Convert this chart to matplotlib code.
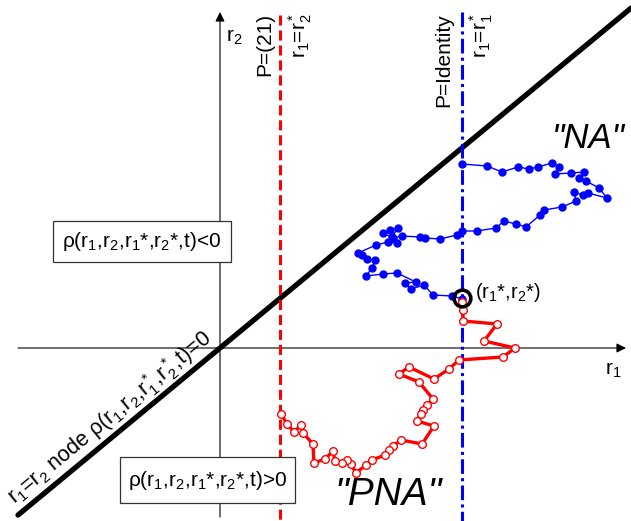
import matplotlib
matplotlib.use('Agg')
import matplotlib.pyplot as plt
from matplotlib.patches import Rectangle

plt.rcParams['font.family'] = ['Liberation Sans', 'DejaVu Sans']
plt.rcParams['mathtext.fontset'] = 'custom'
plt.rcParams['mathtext.rm'] = 'Liberation Sans'
plt.rcParams['mathtext.it'] = 'Liberation Sans:italic'

# ── data (r1, r2 in drawing units, origin at axes crossing) ────────────────
blue_r1 = [242, 232, 213, 204, 191, 185, 196, 177, 163, 146, 152, 155, 147, 142, 138,
           156, 168, 177, 172, 178, 170, 163, 173, 182, 200, 205, 220, 237, 242, 257,
           276, 284, 296, 306, 320, 324, 342, 356, 354, 363, 368, 387, 379, 366, 359,
           364, 351, 335, 339, 332, 318, 309, 298, 282, 267, 242]
blue_r2 = [49, 52, 53, 63, 59, 65, 66, 75, 74, 72, 80, 88, 89, 93, 95,
           103, 106, 105, 111, 120, 118, 115, 110, 112, 111, 110, 109, 113, 117, 117,
           120, 127, 124, 121, 133, 138, 141, 147, 156, 153, 155, 150, 160, 167, 170,
           176, 175, 174, 181, 185, 181, 179, 181, 176, 182, 184]

red_r1 = [242, 243, 243, 277, 264, 295, 283, 239, 229, 214, 189, 179, 199, 213, 207,
          203, 201, 197, 214, 202, 181, 173, 169, 165, 152, 146, 136, 131, 127, 122,
          115, 113, 105, 94, 93, 83, 81, 74, 67, 61]
red_r2 = [46, 38, 27, 24, 7, 0, -9, -12, -21, -31, -19, -26, -34, -51, -57,
          -62, -66, -73, -78, -96, -92, -98, -102, -107, -112, -117, -125, -116, -112, -115,
          -113, -103, -111, -115, -96, -85, -77, -84, -76, -66]

star_r1, star_r2 = 242, 50      # (r1*, r2*)
swap_r1 = 60                    # r1 = r2*
diag_slope = 0.827              # r1 = r2 node line

fig = plt.figure(figsize=(6.31, 5.21), dpi=100)
fig.patch.set_facecolor('white')
ax = fig.add_axes([0, 0, 1, 1])
ax.set_xlim(-220, 411)
ax.set_ylim(-173, 348)
ax.axis('off')

# axes with arrows
ax.annotate('', xy=(406, 0), xytext=(-202, 0),
            arrowprops=dict(arrowstyle='-|>', color='black', lw=0.8,
                            mutation_scale=14, shrinkA=0, shrinkB=0), zorder=1)
ax.annotate('', xy=(0, 336), xytext=(0, -169),
            arrowprops=dict(arrowstyle='-|>', color='black', lw=0.8,
                            mutation_scale=14, shrinkA=0, shrinkB=0), zorder=1)
ax.text(14, 311, 'r$_2$', fontsize=15, ha='center', va='center')
ax.text(393, -22, 'r$_1$', fontsize=15, ha='center', va='center')

# diagonal node line
dx = [-202, 411]
ax.plot(dx, [diag_slope * v for v in dx], color='black', lw=3.8,
        solid_capstyle='round', zorder=2)

# vertical reference lines
ax.plot([swap_r1, swap_r1], [333, -173], color='#FF0000', lw=2.2,
        linestyle=(0, (3.3, 1.6)), zorder=2)
ax.plot([star_r1, star_r1], [336, -173], color='#0000FF', lw=2.2,
        linestyle=(0, (4.8, 1.4, 1.0, 1.4)), zorder=2)

ax.text(45, 335, 'P=(21)', fontsize=15, rotation=90, ha='center', va='top')
ax.text(80, 335, 'r$_1$=r$_2^*$', fontsize=15, rotation=90, ha='center', va='top')
ax.text(224, 335, 'P=Identity', fontsize=15, rotation=90, ha='center', va='top')
ax.text(261, 335, 'r$_1$=r$_1^*$', fontsize=15, rotation=90, ha='center', va='top')

# trajectories
ax.plot(blue_r1, blue_r2, color='#0000FF', lw=1.0, marker='o', markersize=5,
        markerfacecolor='#0000FF', markeredgecolor='#0000FF', zorder=4)
ax.plot(red_r1, red_r2, color='#FF0000', lw=2.4, marker='o', markersize=5.5,
        markerfacecolor='white', markeredgecolor='#FF0000', markeredgewidth=1.0, zorder=4)

ax.plot([star_r1], [star_r2], marker='o', markersize=12, markerfacecolor='none',
        markeredgecolor='black', markeredgewidth=2.6, zorder=5)
ax.text(255, 56, '(r$_1$*,r$_2$*)', fontsize=14.5, ha='left', va='center')

# region boxes
ax.add_patch(Rectangle((-167, 86), 178, 41, facecolor='white',
                       edgecolor='#333333', lw=0.9, zorder=6))
ax.text(-78, 106.5, 'ρ(r$_1$,r$_2$,r$_1$*,r$_2$*,t)<0', fontsize=15,
        ha='center', va='center', zorder=7)
ax.add_patch(Rectangle((-100, -155), 175, 46, facecolor='white',
                       edgecolor='#333333', lw=0.9, zorder=6))
ax.text(-12.5, -132, 'ρ(r$_1$,r$_2$,r$_1$*,r$_2$*,t)>0', fontsize=15,
        ha='center', va='center', zorder=7)

ax.text(-110, -70, 'r$_1$=r$_2$ node ρ(r$_1$,r$_2$,r$_1^*$,r$_2^*$,t)=0', fontsize=15.5,
        rotation=39.6, rotation_mode='anchor', ha='center', va='center')

ax.text(368, 210, '"NA"', fontsize=25, style='italic', ha='center', va='center')
ax.text(168, -147, '"PNA"', fontsize=28, style='italic', ha='center', va='center')

plt.savefig('out.png', dpi=100, facecolor='white')
plt.close()
